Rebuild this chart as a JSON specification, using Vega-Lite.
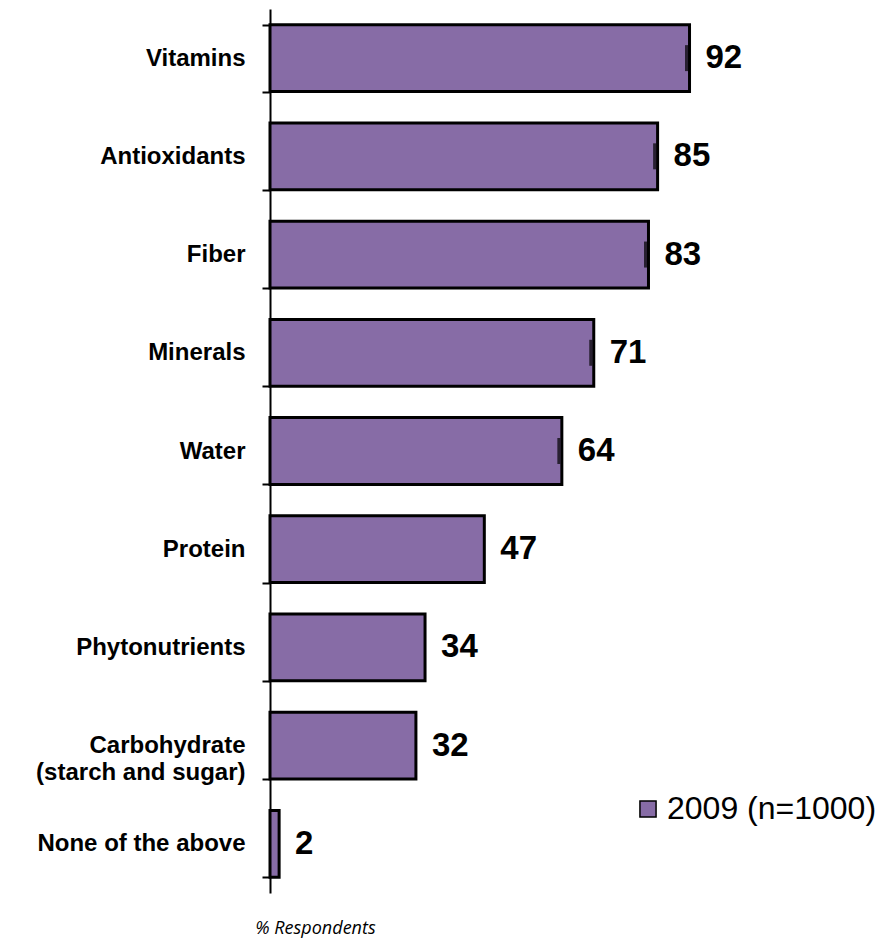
{
  "$schema": "https://vega.github.io/schema/vega-lite/v6.json",
  "autosize": {"type": "none"},
  "padding": {"left": 270, "top": 9, "right": 167, "bottom": 46},
  "width": 456,
  "height": 884,
  "background": "white",
  "config": {"view": {"stroke": null}},
  "data": {
    "values": [
      {"item": "Vitamins", "pct": 92, "series": "2009 (n=1000)", "marker": true},
      {"item": "Antioxidants", "pct": 85, "series": "2009 (n=1000)", "marker": true},
      {"item": "Fiber", "pct": 83, "series": "2009 (n=1000)", "marker": true},
      {"item": "Minerals", "pct": 71, "series": "2009 (n=1000)", "marker": true},
      {"item": "Water", "pct": 64, "series": "2009 (n=1000)", "marker": true},
      {"item": "Protein", "pct": 47, "series": "2009 (n=1000)", "marker": false},
      {"item": "Phytonutrients", "pct": 34, "series": "2009 (n=1000)", "marker": false},
      {"item": "Carbohydrate|(starch and sugar)", "pct": 32, "series": "2009 (n=1000)", "marker": false},
      {"item": "None of the above", "pct": 2, "series": "2009 (n=1000)", "marker": false}
    ]
  },
  "encoding": {
    "y": {
      "field": "item",
      "type": "nominal",
      "sort": null,
      "scale": {"paddingInner": 0.32, "paddingOuter": 0.16},
      "axis": {
        "title": null,
        "labelExpr": "split(datum.label, '|')",
        "labelFont": "Liberation Sans",
        "labelFontWeight": "bold",
        "labelFontSize": 24,
        "labelLineHeight": 27,
        "labelColor": "black",
        "labelPadding": 17,
        "labelLimit": 400,
        "tickBand": "extent",
        "tickSize": 8,
        "tickColor": "black",
        "tickWidth": 2,
        "domainColor": "black",
        "domainWidth": 2,
        "grid": false
      }
    },
    "x": {
      "field": "pct",
      "type": "quantitative",
      "scale": {"domain": [0, 100], "nice": false},
      "axis": {
        "title": "% Respondents",
        "domain": false,
        "ticks": false,
        "labels": false,
        "grid": false,
        "titleFont": "Open Sans",
        "titleFontStyle": "italic",
        "titleFontWeight": "normal",
        "titleFontSize": 18,
        "titleColor": "black",
        "titleX": 45,
        "titleY": 40,
        "titleAlign": "center",
        "titleBaseline": "alphabetic",
        "titleAnchor": null
      }
    }
  },
  "layer": [
    {
      "mark": {"type": "bar", "stroke": "black", "strokeWidth": 3},
      "encoding": {
        "color": {
          "field": "series",
          "type": "nominal",
          "scale": {"range": ["#876ca6"]},
          "legend": {
            "title": null,
            "orient": "none",
            "legendX": 362,
            "legendY": 784,
            "symbolType": "square",
            "symbolSize": 260,
            "symbolStrokeColor": "black",
            "symbolStrokeWidth": 1.5,
            "labelFont": "Liberation Sans",
            "labelFontSize": 32,
            "labelColor": "black",
            "labelOffset": 3,
            "labelLimit": 400,
            "padding": 0
          }
        }
      }
    },
    {
      "transform": [{"filter": "datum.marker"}],
      "mark": {"type": "tick", "color": "black", "thickness": 3, "size": 26, "orient": "vertical", "xOffset": -3},
      "encoding": {"x": {"field": "pct", "type": "quantitative"}}
    },
    {
      "mark": {
        "type": "text",
        "align": "left",
        "baseline": "middle",
        "dx": 16,
        "font": "Liberation Sans",
        "fontWeight": "bold",
        "fontSize": 33,
        "color": "black"
      },
      "encoding": {"text": {"field": "pct", "type": "quantitative"}}
    }
  ]
}
